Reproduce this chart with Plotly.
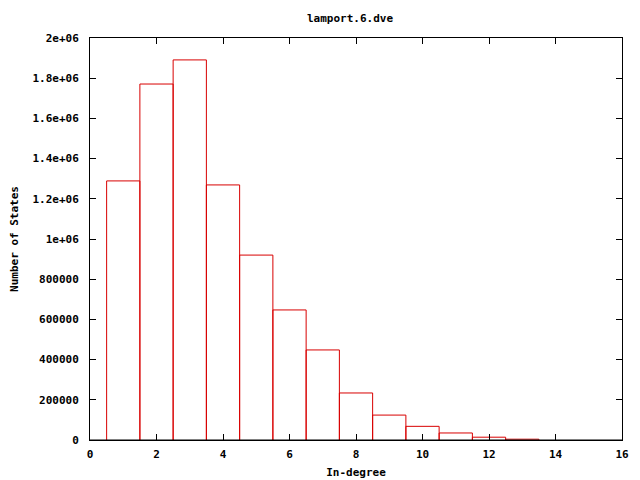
import plotly.graph_objects as go

degrees = [1, 2, 3, 4, 5, 6, 7, 8, 9, 10, 11, 12, 13]
states = [1289000, 1771000, 1891000, 1269000, 920000, 647000, 448000,
          234000, 124000, 68000, 35000, 14000, 4000]

x_ticks = [0, 2, 4, 6, 8, 10, 12, 14, 16]
y_ticks = [0, 200000, 400000, 600000, 800000, 1000000, 1200000, 1400000,
           1600000, 1800000, 2000000]
y_labels = ["0", "200000", "400000", "600000", "800000", "1e+06", "1.2e+06",
            "1.4e+06", "1.6e+06", "1.8e+06", "2e+06"]

FONT = "DejaVu Sans Mono"
BOX_WIDTH = 1.0

# gnuplot "with boxes": outline of each box, built from the data
box_x, box_y = [], []
for d, s in zip(degrees, states):
    left, right = d - BOX_WIDTH / 2, d + BOX_WIDTH / 2
    box_x += [left, left, right, right, None]
    box_y += [0, s, s, 0, None]

fig = go.Figure()
fig.add_trace(go.Scatter(
    x=box_x, y=box_y, mode="lines",
    line=dict(color="#d80000", width=1),
    showlegend=False, hoverinfo="skip",
))

axis_common = dict(
    showgrid=False, zeroline=False, showline=True, linecolor="black", linewidth=1,
    mirror="allticks", ticks="inside", ticklen=6, tickcolor="black", automargin=False,
    tickfont=dict(family=FONT, size=11, color="black"),
)

# black baseline drawn above the boxes, like the border in the original
fig.add_shape(type="line", xref="paper", yref="paper", x0=0, x1=1, y0=0, y1=0,
              line=dict(color="black", width=1), layer="above")

fig.update_layout(
    width=632, height=472,
    margin=dict(l=82, r=18, t=30, b=40),
    paper_bgcolor="white", plot_bgcolor="white",
    title=dict(text="<b>lamport.6.dve</b>", x=342 / 632, xanchor="center",
               y=1 - 10 / 472, yanchor="middle",
               font=dict(family=FONT, size=11, color="black")),
    xaxis=dict(range=[0, 16], tickvals=x_ticks, ticktext=[f"<b>{v}</b>" for v in x_ticks],
               ticklabelstandoff=4,
               title=dict(text="<b>In-degree</b>", font=dict(family=FONT, size=11, color="black"), standoff=8),
               **axis_common),
    yaxis=dict(range=[0, 2000000], tickvals=y_ticks, ticktext=[f"<b>{t}</b>" for t in y_labels],
               ticklabelstandoff=8,
               title=dict(text="<b>Number of States</b>", font=dict(family=FONT, size=11, color="black"), standoff=14),
               **axis_common),
)

fig.write_html("out.html")
